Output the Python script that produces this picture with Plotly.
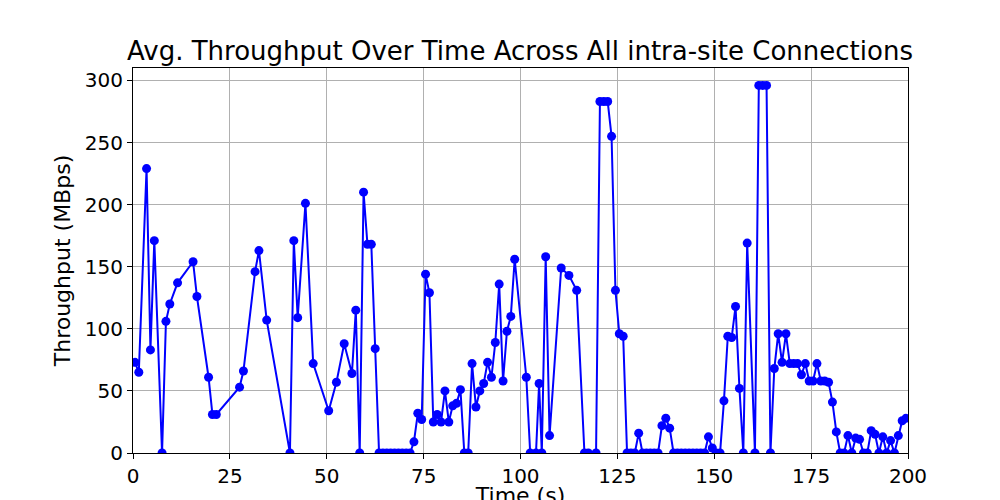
import plotly.graph_objects as go

time_s = [0.5,1.5,3.5,4.5,5.5,7.5,8.5,9.5,11.5,15.5,16.5,19.5,20.5,21.5,27.5,28.5,31.5,32.5,34.5,40.5,41.5,42.5,44.5,46.5,50.5,52.5,54.5,56.5,57.5,58.5,59.5,60.5,61.5,62.5,63.5,64.5,65.5,66.5,67.5,68.5,69.5,70.5,71.5,72.5,73.5,74.5,75.5,76.5,77.5,78.5,79.5,80.5,81.5,82.5,83.5,84.5,85.5,86.5,87.5,88.5,89.5,90.5,91.5,92.5,93.5,94.5,95.5,96.5,97.5,98.5,101.5,102.5,104.0,104.8,105.5,106.5,107.5,110.5,112.5,114.5,116.5,117.5,119.5,120.5,121.5,122.5,123.5,124.5,125.5,126.5,127.5,128.5,129.5,130.5,131.5,132.5,133.5,134.5,135.5,136.5,137.5,138.5,139.5,140.5,141.5,142.5,143.5,144.5,145.5,146.5,147.5,148.5,149.5,150.5,151.5,152.5,153.5,154.5,155.5,156.5,157.5,158.5,160.5,161.5,162.5,163.5,164.5,165.5,166.5,167.5,168.5,169.5,170.5,171.5,172.5,173.5,174.5,175.5,176.5,177.5,178.5,179.5,180.5,181.5,182.5,183.5,184.5,185.5,186.5,187.5,188.5,189.5,190.5,191.5,192.5,193.5,194.5,195.5,196.5,197.5,198.5,199.5]
throughput = [73,65,229,83,171,0,106,120,137,154,126,61,31,31,53,66,146,163,107,0,171,109,201,72,34,57,88,64,115,0,210,168,168,84,0,0,0,0,0,0,0,0,0,9,32,27,144,129,25,31,25,50,25,38,40,51,0,0,72,37,50,56,73,61,89,136,58,98,110,156,61,0,0,56,0,158,14,149,143,131,0,0,0,283,283,283,255,131,96,94,0,0,0,16,0,0,0,0,0,22,28,20,0,0,0,0,0,0,0,0,0,13,4,0,0,42,94,93,118,52,0,169,0,296,296,296,0,68,96,73,96,72,72,72,63,72,58,58,72,58,58,57,41,17,0,0,14,0,12,11,0,0,18,15,0,13,0,10,0,14,26,28]

fig = go.Figure(go.Scatter(
    x=time_s, y=throughput, mode="lines+markers",
    line=dict(color="#0000ff", width=2), marker=dict(color="#0000ff", size=9),
))
ax = dict(showline=True, linecolor="black", mirror=True, ticks="outside", ticklen=5,
          tickcolor="black", showgrid=True, gridcolor="#b0b0b0", zeroline=False,
          automargin=False, tickfont=dict(size=20, color="black"))
fig.update_layout(
    width=1000, height=500, paper_bgcolor="white", plot_bgcolor="white",
    font=dict(family="DejaVu Sans", color="black"),
    title=dict(text="Avg. Throughput Over Time Across All intra-site Connections",
               x=0.512, xref="container", xanchor="center", y=0.915, yanchor="middle",
               font=dict(size=26)),
    margin=dict(l=125, r=100, t=60, b=55, autoexpand=False),
    showlegend=False,
    xaxis=dict(range=[0, 200], tickvals=[0,25,50,75,100,125,150,175,200],
               title=dict(text="Time (s)", font=dict(size=22), standoff=0), **ax),
    yaxis=dict(range=[0, 310], tickvals=[0,50,100,150,200,250,300],
               title=dict(text="Throughput (MBps)", font=dict(size=22), standoff=8), **ax),
)
fig.write_html("out.html")
